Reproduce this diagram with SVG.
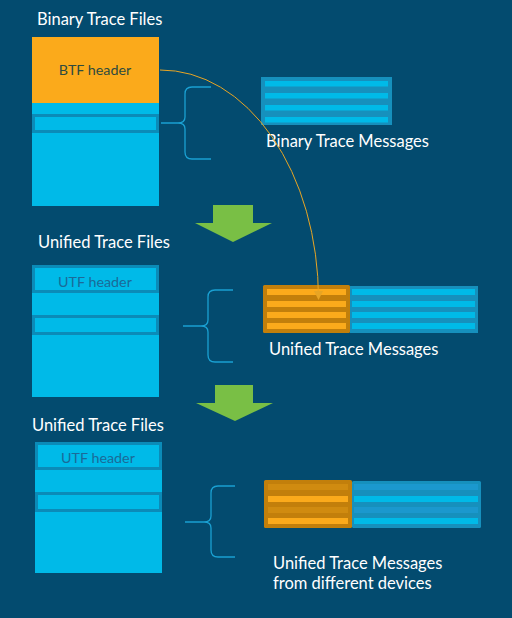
<svg xmlns="http://www.w3.org/2000/svg" width="512" height="618" viewBox="0 0 512 618">
<defs>
<style>
.title{font-family:Lato,"Open Sans","Liberation Sans",sans-serif;font-size:16.5px;fill:#ffffff}
.hdr{font-family:Lato,"Open Sans","Liberation Sans",sans-serif;font-size:14.3px;text-anchor:middle}
.file{fill:#00BAE8}
.row{fill:#00BAE8;stroke:#0B8BB8;stroke-width:3}
.brace{fill:none;stroke:#1AA0D2;stroke-width:1.3}
.bstripe{fill:#00BAE8}
.bbox{fill:#1690BD}
.obox{fill:#C27F0B}
.ostripe{fill:#FBAA1B}
.arrow{fill:#79BF45}
</style>
<marker id="ah" markerWidth="9" markerHeight="9" refX="8" refY="4.5" orient="auto" markerUnits="userSpaceOnUse">
<path d="M0,0 L9,4.5 L0,9 Z" fill="#E8A524"/>
</marker>
</defs>
<rect width="512" height="618" fill="#034B6F"/>

<g id="btf-file">
<text class="title" x="37" y="25">Binary Trace Files</text>
<rect class="file" x="32" y="103" width="127" height="103"/>
<rect x="32" y="37" width="127" height="66" fill="#FBAA1B"/>
<text class="hdr" x="95" y="75" fill="#2F4B3F">BTF header</text>
<rect class="row" x="33.5" y="115.5" width="124" height="16"/>
</g>

<g id="btf-messages">
<rect class="bbox" x="261" y="77" width="131" height="48"/>
<rect class="bstripe" x="265" y="81" width="123" height="5.5"/>
<rect class="bstripe" x="265" y="93" width="123" height="5.5"/>
<rect class="bstripe" x="265" y="105" width="123" height="5.5"/>
<rect class="bstripe" x="265" y="117" width="123" height="5.5"/>
<text class="title" x="266" y="147">Binary Trace Messages</text>
</g>

<g id="arrow-1">
<path class="arrow" d="M213,205 H253 V223 H272 L233,242 L195,223 H213 Z"/>
</g>

<g id="utf-file-1">
<text class="title" x="38" y="248">Unified Trace Files</text>
<rect class="file" x="32" y="265" width="127" height="132"/>
<rect class="row" x="33.5" y="266.5" width="124" height="25"/>
<text class="hdr" x="95" y="287" fill="#1B6A98">UTF header</text>
<rect class="row" x="33.5" y="316.5" width="124" height="17"/>
</g>

<g id="utf-messages-1">
<rect class="bbox" x="350" y="286" width="128" height="47"/>
<rect class="bstripe" x="352" y="289" width="123" height="6"/>
<rect class="bstripe" x="352" y="301" width="123" height="6"/>
<rect class="bstripe" x="352" y="312" width="123" height="6"/>
<rect class="bstripe" x="352" y="323" width="123" height="6"/>
<rect class="obox" x="263" y="285" width="87" height="48" rx="1.5"/>
<rect class="ostripe" x="267" y="289" width="79" height="6"/>
<rect class="ostripe" x="267" y="301" width="79" height="6"/>
<rect class="ostripe" x="267" y="312" width="79" height="6"/>
<rect class="ostripe" x="267" y="323" width="79" height="6"/>
<text class="title" x="269" y="355">Unified Trace Messages</text>
</g>

<g id="arrow-2">
<path class="arrow" d="M215,385 H253 V403 H273 L235,421 L196,403 H215 Z"/>
</g>

<g id="utf-file-2">
<text class="title" x="32" y="431">Unified Trace Files</text>
<rect class="file" x="35" y="442" width="127" height="131"/>
<rect class="row" x="36.5" y="443.5" width="124" height="25"/>
<text class="hdr" x="98" y="463" fill="#1B6A98">UTF header</text>
<rect class="row" x="36.5" y="493.5" width="124" height="17"/>
</g>

<g id="utf-messages-2">
<rect class="bbox" x="352" y="481" width="129" height="47" rx="1.5"/>
<rect x="354" y="484" width="124" height="6" fill="#1B98CE"/>
<rect class="bstripe" x="354" y="496" width="124" height="6"/>
<rect x="354" y="507" width="124" height="6" fill="#1B98CE"/>
<rect class="bstripe" x="354" y="518" width="124" height="6"/>
<rect class="obox" x="264" y="480" width="88" height="48" rx="1.5"/>
<rect x="268" y="484" width="80" height="6" fill="#D08B10"/>
<rect class="ostripe" x="268" y="496" width="80" height="6"/>
<rect x="268" y="507" width="80" height="6" fill="#D08B10"/>
<rect class="ostripe" x="268" y="518" width="80" height="6"/>
<text class="title" x="273" y="569">Unified Trace Messages</text>
<text class="title" x="273" y="589">from different devices</text>
</g>

<g id="connectors">
<path class="brace" d="M211,87 H192 Q185,87 185,94 V117 Q185,123 178,123 H161 M178,123 Q185,123 185,129 V152 Q185,159 192,159 H211"/>
<path class="brace" d="M233,290 H215 Q208,290 208,297 V320 Q208,326 201,326 H183 M201,326 Q208,326 208,332 V355 Q208,362 215,362 H233"/>
<path class="brace" d="M235,486 H218 Q211,486 211,493 V516 Q211,522 204,522 H185 M204,522 Q211,522 211,528 V550 Q211,557 218,557 H235"/>
<path d="M160,70 A158,229 0 0 1 318.5,299" fill="none" stroke="#E8A524" stroke-width="1" marker-end="url(#ah)"/>
</g>
</svg>
